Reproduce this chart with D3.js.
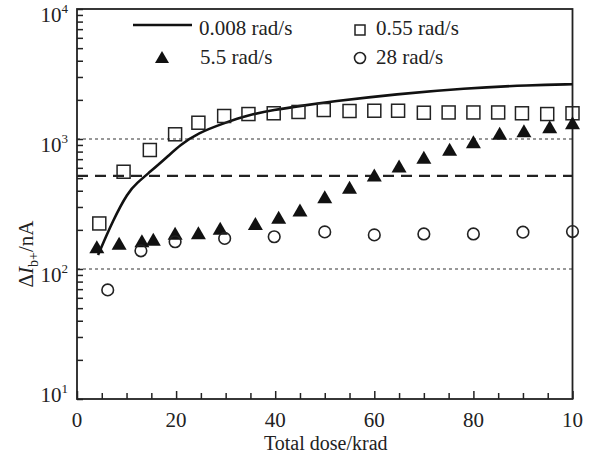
<!DOCTYPE html>
<html>
<head>
<meta charset="utf-8">
<script src="https://cdn.jsdelivr.net/npm/d3@7"></script>
<style>
  html, body { margin: 0; padding: 0; background: #fff; }
  svg { display: block; }
  text { font-family: "Liberation Serif", "Times New Roman", serif; fill: #222; }
</style>
</head>
<body>
<svg id="chart" width="594" height="454"></svg>
<script>
// ---------- data ----------
const lineDose = [4.24, 7.27, 10.3, 12.1, 14.7, 18.2, 20.8, 24.4, 29.7, 34.6, 39.6, 45.7, 51.1, 64.6, 78, 91.5, 100];
const lineVal  = [128, 238, 391, 459, 557, 727, 899, 1112, 1327, 1530, 1671, 1811, 1936, 2218, 2455, 2601, 2635];

const sqDose = [4.5, 9.4, 14.7, 19.8, 24.5, 29.7, 34.6, 39.7, 44.7, 49.8, 55, 60, 64.8, 70, 75, 80, 85, 89.8, 94.9, 100];
const sqVal  = [224, 560, 823, 1087, 1334, 1503, 1556, 1577, 1614, 1671, 1642, 1650, 1650, 1593, 1600, 1600, 1600, 1577, 1556, 1577];

const triDose = [4, 8.5, 13.1, 15.4, 19.8, 24.5, 28.9, 36, 40.7, 45, 50, 55, 60, 65, 70, 75.2, 80, 85.3, 90.2, 95.4, 100];
const triVal  = [148, 158, 165, 169, 188, 190, 206, 224, 250, 284, 360, 425, 529, 620, 723, 834, 953, 1106, 1159, 1245, 1334];

const circDose = [6.2, 12.9, 19.8, 29.8, 39.8, 50, 60, 70, 80, 90, 100];
const circVal  = [69, 138, 162, 172, 177, 193, 183, 186, 186, 192, 194];

const dottedRefs = [1000, 100];
const dashedRef = 520;

const xTickValues = [0, 20, 40, 60, 80, 100];
const xTickLabels = ["0", "20", "40", "60", "80", "10"];
const yTickValues = [10, 100, 1000, 10000];
const yTickExps = ["1", "2", "3", "4"];

const legendLabels = ["0.008 rad/s", "0.55 rad/s", "5.5 rad/s", "28 rad/s"];
const xTitle = "Total dose/krad";

// ---------- layout ----------
const svg = d3.select("#chart");
const L = 77, R = 572.5, T = 9, B = 399;
const x = d3.scaleLinear().domain([0, 100]).range([L, R]);
const y = d3.scaleLog().domain([10, 10000]).range([B, T]);
const ink = "#222";

// reference lines
svg.selectAll("line.dot").data(dottedRefs).join("line")
  .attr("x1", L).attr("x2", R)
  .attr("y1", d => y(d)).attr("y2", d => y(d))
  .attr("stroke", "#777").attr("stroke-width", 1.4)
  .attr("stroke-dasharray", "3,3");
svg.append("line")
  .attr("x1", L).attr("x2", R)
  .attr("y1", y(dashedRef)).attr("y2", y(dashedRef))
  .attr("stroke", ink).attr("stroke-width", 2.2)
  .attr("stroke-dasharray", "11,7");

// axes (ticks inward)
const xMinor = d3.range(0, 101, 5);
const xAxis = d3.axisBottom(x).tickValues(xMinor).tickSize(-6).tickFormat("");
svg.append("g").attr("transform", `translate(0,${B})`).call(xAxis)
  .call(g => g.select(".domain").remove())
  .call(g => g.selectAll(".tick line").attr("stroke", ink).attr("stroke-width", 1.5)
    .attr("y2", d => (d % 20 === 0 ? -8 : -6)));

const yMinor = [];
for (let e = 1; e < 4; e++) for (let m = 1; m <= 9; m++) yMinor.push(m * Math.pow(10, e));
yMinor.push(10000);
const yAxis = d3.axisLeft(y).tickValues(yMinor).tickSize(-6).tickFormat("");
svg.append("g").attr("transform", `translate(${L},0)`).call(yAxis)
  .call(g => g.select(".domain").remove())
  .call(g => g.selectAll(".tick line").attr("stroke", ink).attr("stroke-width", 1.5));

// frame
svg.append("rect").attr("x", L).attr("y", T).attr("width", R - L).attr("height", B - T)
  .attr("fill", "none").attr("stroke", ink).attr("stroke-width", 1.8);

// x tick labels
svg.selectAll("text.xt").data(xTickValues).join("text")
  .attr("x", d => x(d)).attr("y", 427)
  .attr("text-anchor", "middle").attr("font-size", 21)
  .text((d, i) => xTickLabels[i]);

// y tick labels with superscripts
yTickValues.forEach((v, i) => {
  const t = svg.append("text")
    .attr("x", 68).attr("y", y(v) + (i === 0 ? 3 : 13))
    .attr("text-anchor", "end").attr("font-size", 21);
  t.append("tspan").text("10");
  t.append("tspan").attr("font-size", 13).attr("dy", -9).text(yTickExps[i]);
});

// axis titles
svg.append("text").attr("x", (L + R) / 2 + 1).attr("y", 450)
  .attr("text-anchor", "middle").attr("font-size", 20).text(xTitle);

const yt = svg.append("text")
  .attr("transform", "translate(33,254) rotate(-90)")
  .attr("text-anchor", "middle").attr("font-size", 21);
yt.append("tspan").text("Δ");
yt.append("tspan").attr("font-style", "italic").text("I");
yt.append("tspan").attr("font-size", 14).attr("dy", 5).text("b+");
yt.append("tspan").attr("dy", -5).text("/nA");

// ---------- marks ----------
const lineData = lineDose.map((d, i) => [d, lineVal[i]]);
svg.append("path").datum(lineData)
  .attr("fill", "none").attr("stroke", "#111").attr("stroke-width", 2.6)
  .attr("stroke-linejoin", "round")
  .attr("d", d3.line().x(d => x(d[0])).y(d => y(d[1])).curve(d3.curveBasis));

const sqSize = 13;
svg.selectAll("rect.sq").data(sqDose.map((d, i) => [d, sqVal[i]])).join("rect")
  .attr("x", d => x(d[0]) - sqSize / 2).attr("y", d => y(d[1]) - sqSize / 2)
  .attr("width", sqSize).attr("height", sqSize)
  .attr("fill", "none").attr("stroke", "#222").attr("stroke-width", 1.5);

const triPath = (cx, cy, w, h) => `M${cx - w / 2},${cy + h / 2}L${cx + w / 2},${cy + h / 2}L${cx},${cy - h / 2}Z`;
svg.selectAll("path.tri").data(triDose.map((d, i) => [d, triVal[i]])).join("path")
  .attr("d", d => triPath(x(d[0]), y(d[1]), 15, 13))
  .attr("fill", "#111");

svg.selectAll("circle.c").data(circDose.map((d, i) => [d, circVal[i]])).join("circle")
  .attr("cx", d => x(d[0])).attr("cy", d => y(d[1])).attr("r", 5.8)
  .attr("fill", "none").attr("stroke", "#222").attr("stroke-width", 1.6);

// ---------- legend ----------
const lf = 21;
svg.append("line").attr("x1", 133).attr("x2", 192).attr("y1", 25).attr("y2", 25)
  .attr("stroke", "#111").attr("stroke-width", 2.6);
svg.append("text").attr("x", 199).attr("y", 35).attr("font-size", lf).text(legendLabels[0]);

svg.append("rect").attr("x", 355).attr("y", 25).attr("width", 10).attr("height", 10)
  .attr("fill", "none").attr("stroke", "#222").attr("stroke-width", 1.5);
svg.append("text").attr("x", 376).attr("y", 35).attr("font-size", lf).text(legendLabels[1]);

svg.append("path").attr("d", triPath(162, 57, 14, 12)).attr("fill", "#111");
svg.append("text").attr("x", 200).attr("y", 64).attr("font-size", lf).text(legendLabels[2]);

svg.append("circle").attr("cx", 360).attr("cy", 58).attr("r", 5.5)
  .attr("fill", "none").attr("stroke", "#222").attr("stroke-width", 1.6);
svg.append("text").attr("x", 376).attr("y", 64).attr("font-size", lf).text(legendLabels[3]);
</script>
</body>
</html>
